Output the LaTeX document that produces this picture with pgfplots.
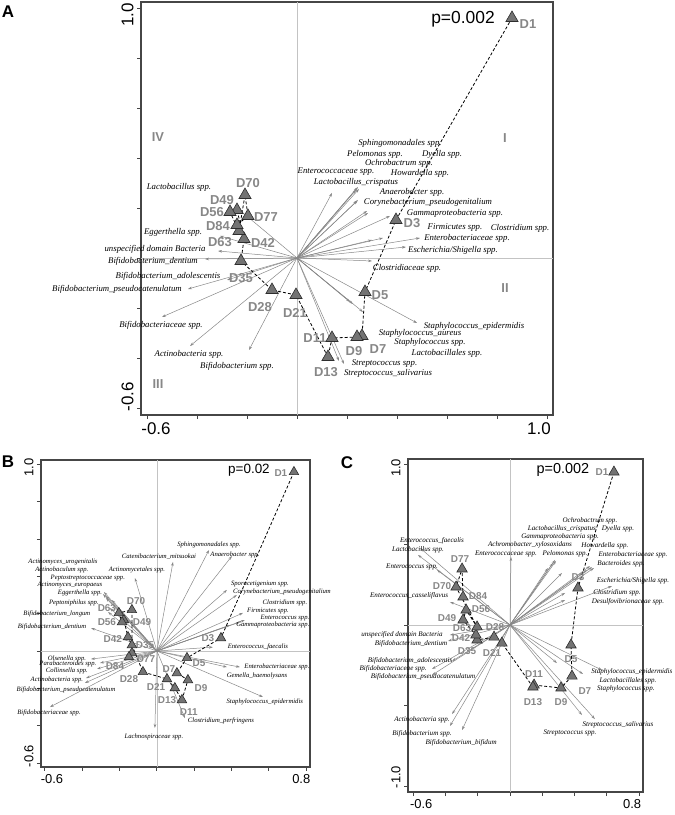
\documentclass[border=0pt]{standalone}
\usepackage{fontspec}
\setmainfont{Liberation Sans}
\newfontfamily\tnr{Liberation Serif}
\usepackage{pgfplots}
\pgfplotsset{compat=1.18}
\usetikzlibrary{arrows.meta}
\definecolor{ArrowGray}{RGB}{135,135,135}
\definecolor{ZeroGray}{RGB}{195,195,195}
\definecolor{TriFill}{RGB}{115,115,115}
\definecolor{TriDraw}{RGB}{45,45,45}
\definecolor{LabGray}{RGB}{135,135,135}
\definecolor{FrameGray}{RGB}{70,70,70}

\pgfplotsset{
  rda/.style={scale only axis, clip=false, axis line style={FrameGray, line width=1.1bp},
    tick pos=left, tick align=outside, major tick length=4bp,
    tick style={FrameGray, line width=0.9bp},
    /pgf/number format/assume math mode=true,
    yticklabel style={rotate=90, anchor=south}},
  vec/.style={ArrowGray, line width=0.5bp, -{Stealth[length=4bp,width=2.6bp]},
    quiver={u=\thisrow{u}, v=\thisrow{v}}},
  traj/.style={black, line width=0.8bp, dash pattern=on 3bp off 2bp, mark=triangle*,
    mark options={solid, fill=TriFill, draw=TriDraw, line width=0.6bp}},
  zero/.style={ZeroGray, line width=0.7bp, forget plot},
}
\tikzset{
  spA/.style={font=\tnr\itshape\fontsize{8.8}{8.8}\selectfont, inner sep=0pt},
  spB/.style={font=\tnr\itshape\fontsize{6.7}{6.7}\selectfont, inner sep=0pt},
  spC/.style={font=\tnr\itshape\fontsize{7.1}{7.1}\selectfont, inner sep=0pt},
  dA/.style={font=\bfseries\fontsize{13}{13}\selectfont, text=LabGray, inner sep=0pt},
  dB/.style={font=\bfseries\fontsize{10}{10}\selectfont, text=LabGray, inner sep=0pt},
  quad/.style={font=\bfseries\fontsize{13}{13}\selectfont, text=LabGray, inner sep=0pt},
  pan/.style={font=\bfseries\fontsize{17}{17}\selectfont, inner sep=0pt},
}
\newcommand{\lab}[4][spA]{\node[#1] at (axis cs:#2,#3) {#4};}

\begin{document}
\begin{tikzpicture}
\useasboundingbox (0,0) rectangle (675bp,815bp);
\node[pan] at (8bp,803bp) {A};
\node[pan] at (8bp,353bp) {B};
\node[pan] at (347bp,352bp) {C};

% ---------------- panel A ----------------
\begin{axis}[rda, at={(141bp,400bp)}, anchor=south west, width=412bp, height=413bp,
  xmin=-0.624, xmax=1.024, ymin=-0.628, ymax=1.024,
  xtick={-0.6,-0.4,-0.2,0,0.2,0.4,0.6,0.8,1.0},
  xticklabels={{\hspace*{18bp}-0.6},,,,,,,,{1.0\hspace*{16bp}}},
  ytick={-0.6,-0.4,-0.2,0,0.2,0.4,0.6,0.8,1.0},
  yticklabels={{\hspace*{22bp}-0.6},,,,,,,,{1.0\hspace*{14bp}}},
  ticklabel style={font=\fontsize{17}{17}\selectfont}]
\addplot[zero] coordinates {(0,-0.628) (0,1.024)};
\addplot[zero] coordinates {(-0.624,0) (1.024,0)};
\addplot[vec] table[x expr=0, y expr=0] {
u v
-0.244 0.204
-0.308 0.088
-0.316 0.028
-0.368 -0.004
-0.280 -0.088
-0.436 -0.124
-0.540 -0.236
-0.428 -0.352
-0.192 -0.368
0.140 0.260
0.244 0.284
0.240 0.280
0.236 0.272
0.248 0.276
0.240 0.228
0.244 0.232
0.280 0.188
0.284 0.180
0.372 0.168
0.300 0.072
0.344 0.080
0.492 0.080
0.436 0.044
0.300 -0.012
0.480 -0.260
0.224 -0.184
0.264 -0.216
0.212 -0.176
0.188 -0.424
0.168 -0.412
};
\addplot[traj, mark size=7bp] coordinates {
(0.860,0.960) (0.396,0.152) (0.272,-0.136) (0.260,-0.312) (0.240,-0.316)
(0.140,-0.320) (0.124,-0.396) (-0.004,-0.148) (-0.100,-0.128) (-0.224,-0.012)
(-0.212,0.076) (-0.240,0.192) (-0.268,0.184) (-0.232,0.108) (-0.208,0.252)
(-0.196,0.168) (-0.240,0.132)
};
\lab{0.412}{0.460}{Sphingomonadales spp.}
\lab{0.312}{0.416}{Pelomonas spp.}
\lab{0.580}{0.416}{Dyella spp.}
\lab{0.408}{0.380}{Ochrobactrum spp.}
\lab{0.156}{0.344}{Enterococcaceae spp.}
\lab{0.492}{0.340}{Howardella spp.}
\lab{0.236}{0.304}{Lactobacillus\_crispatus}
\lab{0.460}{0.264}{Anaerobacter spp.}
\lab{0.524}{0.224}{Corynebacterium\_pseudogenitalium}
\lab{0.632}{0.180}{Gammaproteobacteria spp.}
\lab{0.632}{0.120}{Firmicutes spp.}
\lab{0.892}{0.120}{Clostridium spp.}
\lab{0.680}{0.080}{Enterobacteriaceae spp.}
\lab{0.624}{0.032}{Escherichia/Shigella spp.}
\lab{0.440}{-0.040}{Clostridiaceae spp.}
\lab{0.708}{-0.272}{Staphylococcus\_epidermidis}
\lab{0.492}{-0.300}{Staphylococcus\_aureus}
\lab{0.532}{-0.336}{Staphylococcus spp.}
\lab{0.600}{-0.380}{Lactobacillales spp.}
\lab{0.350}{-0.424}{Streptococcus spp.}
\lab{0.364}{-0.462}{Streptococcus\_salivarius}
\lab{-0.472}{0.284}{Lactobacillus spp.}
\lab{-0.496}{0.104}{Eggerthella spp.}
\lab{-0.568}{0.036}{unspecified domain Bacteria}
\lab{-0.576}{-0.012}{Bifidobacterium\_dentium}
\lab{-0.516}{-0.072}{Bifidobacterium\_adolescentis}
\lab{-0.720}{-0.124}{Bifidobacterium\_pseudocatenulatum}
\lab{-0.544}{-0.268}{Bifidobacteriaceae spp.}
\lab{-0.432}{-0.384}{Actinobacteria spp.}
\lab{-0.240}{-0.432}{Bifidobacterium spp.}
\lab[dA]{-0.196}{0.300}{D70}
\lab[dA]{-0.300}{0.232}{D49}
\lab[dA]{-0.340}{0.184}{D56}
\lab[dA]{-0.124}{0.164}{D77}
\lab[dA]{-0.316}{0.128}{D84}
\lab[dA]{-0.308}{0.064}{D63}
\lab[dA]{-0.136}{0.060}{D42}
\lab[dA]{-0.224}{-0.080}{D35}
\lab[dA]{-0.148}{-0.196}{D28}
\lab[dA]{-0.008}{-0.220}{D21}
\lab[dA]{0.072}{-0.320}{D11}
\lab[dA]{0.116}{-0.456}{D13}
\lab[dA]{0.228}{-0.372}{D9}
\lab[dA]{0.324}{-0.364}{D7}
\lab[dA]{0.332}{-0.148}{D5}
\lab[dA]{0.460}{0.140}{D3}
\lab[dA]{0.924}{0.936}{D1}
\lab[quad]{-0.556}{0.484}{IV}
\lab[quad]{0.832}{0.480}{I}
\lab[quad]{0.832}{-0.120}{II}
\lab[quad]{-0.556}{-0.504}{III}
\node[font=\fontsize{17.5}{17.5}\selectfont, inner sep=0pt] at (axis cs:0.664,0.956) {p=0.002};
\end{axis}

% ---------------- panel B ----------------
\begin{axis}[rda, at={(41bp,48bp)}, anchor=south west, width=269bp, height=307bp,
  xmin=-0.621, xmax=0.820, ymin=-0.621, ymax=1.023,
  xtick={-0.6,-0.4,-0.2,0,0.2,0.4,0.6,0.8},
  xticklabels={{\hspace*{14bp}-0.6},,,,,,,{0.8\hspace*{10bp}}},
  ytick={-0.6,-0.4,-0.2,0,0.2,0.4,0.6,0.8,1.0},
  yticklabels={{\hspace*{14bp}-0.6},,,,,,,,{1.0\hspace*{6bp}}},
  ticklabel style={font=\fontsize{13}{13}\selectfont}]
\addplot[zero] coordinates {(0,-0.621) (0,1.023)};
\addplot[zero] coordinates {(-0.621,0) (0.820,0)};
\addplot[vec] table[x expr=0, y expr=0] {
u v
0.279 0.541
0.402 0.509
0.086 0.477
-0.118 0.391
-0.284 0.316
-0.273 0.295
-0.241 0.273
-0.273 0.284
-0.289 0.305
-0.252 0.230
-0.262 0.209
-0.353 0.123
0.375 0.327
0.428 0.300
0.461 0.204
0.471 0.166
0.445 0.155
0.391 0.139
0.300 0.021
0.445 -0.086
0.375 -0.086
0.568 -0.246
0.150 -0.359
-0.011 -0.412
-0.353 -0.043
-0.305 -0.064
-0.321 -0.096
-0.380 -0.145
-0.386 -0.171
-0.573 -0.300
};
\addplot[traj, mark size=5.5bp] coordinates {
(0.734,0.959) (0.343,0.070) (0.161,-0.037) (0.107,-0.118) (0.166,-0.155)
(0.134,-0.262) (0.096,-0.198) (0.054,-0.150) (-0.075,-0.112) (-0.134,0.032)
(-0.155,0.075) (-0.177,0.166) (-0.187,0.155) (-0.204,0.204) (-0.134,0.220)
(-0.134,-0.011) (-0.150,-0.032)
};
\lab[spB]{0.279}{0.568}{Sphingomonadales spp.}
\lab[spB]{0.418}{0.514}{Anaerobacter spp.}
\lab[spB]{0.011}{0.503}{Catenibacterium\_mitsuokai}
\lab[spB]{-0.107}{0.434}{Actinomycetales spp.}
\lab[spB]{-0.503}{0.477}{Actinomyces\_urogenitalis}
\lab[spB]{-0.509}{0.434}{Actinobaculum spp.}
\lab[spB]{-0.370}{0.391}{Peptostreptococcaceae spp.}
\lab[spB]{-0.466}{0.353}{Actinomyces\_europaeus}
\lab[spB]{-0.412}{0.311}{Eggerthella spp.}
\lab[spB]{-0.445}{0.257}{Peptoniphilus spp.}
\lab[spB]{-0.536}{0.198}{Bifidobacterium\_longum}
\lab[spB]{-0.562}{0.129}{Bifidobacterium\_dentium}
\lab[spB]{0.552}{0.359}{Sporacetigenium spp.}
\lab[spB]{0.670}{0.316}{Corynebacterium\_pseudogenitalium}
\lab[spB]{0.686}{0.257}{Clostridium spp.}
\lab[spB]{0.595}{0.214}{Firmicutes spp.}
\lab[spB]{0.686}{0.177}{Enterococcus spp.}
\lab[spB]{0.621}{0.139}{Gammaproteobacteria spp.}
\lab[spB]{0.541}{0.021}{Enterococcus\_faecalis}
\lab[spB]{0.643}{-0.086}{Enterobacteriaceae spp.}
\lab[spB]{0.536}{-0.134}{Gemella\_haemolysans}
\lab[spB]{0.578}{-0.273}{Staphylococcus\_epidermidis}
\lab[spB]{0.343}{-0.375}{Clostridium\_perfringens}
\lab[spB]{-0.016}{-0.461}{Lachnospiraceae spp.}
\lab[spB]{-0.482}{-0.043}{Olsenella spp.}
\lab[spB]{-0.477}{-0.070}{Parabacteroides spp.}
\lab[spB]{-0.482}{-0.107}{Collinsella spp.}
\lab[spB]{-0.536}{-0.155}{Actinobacteria spp.}
\lab[spB]{-0.487}{-0.209}{Bifidobacterium\_pseudocatenulatum}
\lab[spB]{-0.578}{-0.332}{Bifidobacteriaceae spp.}
\lab[dB]{0.664}{0.953}{D1}
\lab[dB]{0.273}{0.070}{D3}
\lab[dB]{0.225}{-0.064}{D5}
\lab[dB]{0.064}{-0.096}{D7}
\lab[dB]{0.236}{-0.198}{D9}
\lab[dB]{0.171}{-0.325}{D11}
\lab[dB]{0.054}{-0.262}{D13}
\lab[dB]{-0.005}{-0.193}{D21}
\lab[dB]{-0.150}{-0.150}{D28}
\lab[dB]{-0.064}{0.032}{D35}
\lab[dB]{-0.236}{0.064}{D42}
\lab[dB]{-0.080}{0.155}{D49}
\lab[dB]{-0.268}{0.155}{D56}
\lab[dB]{-0.268}{0.230}{D63}
\lab[dB]{-0.112}{0.268}{D70}
\lab[dB]{-0.059}{-0.043}{D77}
\lab[dB]{-0.225}{-0.080}{D84}
\node[font=\fontsize{13.5}{13.5}\selectfont, inner sep=0pt] at (axis cs:0.493,0.969) {p=0.02};
\end{axis}

% ---------------- panel C ----------------
\begin{axis}[rda, at={(408bp,23bp)}, anchor=south west, width=235bp, height=333bp,
  xmin=-0.632, xmax=0.824, ymin=-1.037, ymax=1.031,
  xtick={-0.6,-0.4,-0.2,0,0.2,0.4,0.6,0.8},
  xticklabels={{\hspace*{16bp}-0.6},,,,,,,{0.8\hspace*{14bp}}},
  ytick={-1,-0.5,0,0.5,1},
  yticklabels={{\hspace*{18bp}-1.0},,,,{1.0\hspace*{8bp}}},
  ticklabel style={font=\fontsize{13}{13}\selectfont}]
\addplot[zero] coordinates {(0,-1.037) (0,1.031)};
\addplot[zero] coordinates {(-0.632,0) (0.824,0)};
\addplot[vec] table[x expr=0, y expr=0] {
u v
0.279 0.404
0.266 0.385
0.322 0.323
0.235 0.354
0.006 0.422
0.285 0.398
0.495 0.366
0.508 0.360
0.477 0.342
0.520 0.354
0.632 0.242
0.341 0.199
0.341 0.155
-0.557 0.478
-0.570 0.435
-0.452 0.342
-0.372 0.143
-0.372 -0.062
-0.384 -0.099
-0.359 -0.224
-0.483 -0.273
-0.483 -0.311
-0.359 -0.553
-0.372 -0.627
-0.297 -0.652
0.570 -0.280
0.452 -0.304
0.291 -0.236
0.526 -0.584
0.446 -0.559
};
\addplot[traj, mark size=6bp] coordinates {
(0.644,0.950) (0.421,0.230) (0.378,-0.124) (0.384,-0.317) (0.316,-0.391)
(0.149,-0.373) (0.142,-0.385) (-0.050,-0.112) (-0.099,-0.075) (-0.204,-0.093)
(-0.211,-0.062) (-0.291,0.031) (-0.272,0.093) (-0.204,-0.012) (-0.334,0.236)
(-0.297,0.348) (-0.291,0.174)
};
\lab[spC]{0.495}{0.646}{Ochrobactrum spp.}
\lab[spC]{0.322}{0.596}{Lactobacillus\_crispatus}
\lab[spC]{0.669}{0.596}{Dyella spp.}
\lab[spC]{0.310}{0.547}{Gammaproteobacteria spp.}
\lab[spC]{0.124}{0.497}{Achromobacter\_xylosoxidans}
\lab[spC]{0.588}{0.491}{Howardella spp.}
\lab[spC]{-0.025}{0.441}{Enterococcaceae spp.}
\lab[spC]{0.341}{0.441}{Pelomonas spp.}
\lab[spC]{0.762}{0.435}{Enterobacteriaceae spp.}
\lab[spC]{0.687}{0.379}{Bacteroides spp.}
\lab[spC]{0.762}{0.273}{Escherichia/Shigella spp.}
\lab[spC]{0.663}{0.199}{Clostridium spp.}
\lab[spC]{0.731}{0.143}{Desulfovibrionaceae spp.}
\lab[spC]{-0.483}{0.522}{Enterococcus\_faecalis}
\lab[spC]{-0.570}{0.466}{Lactobacillus spp.}
\lab[spC]{-0.607}{0.360}{Enterococcus spp.}
\lab[spC]{-0.625}{0.180}{Enterococcus\_casseliflavus}
\lab[spC]{-0.669}{-0.062}{unspecified domain Bacteria}
\lab[spC]{-0.613}{-0.118}{Bifidobacterium\_dentium}
\lab[spC]{-0.619}{-0.224}{Bifidobacterium\_adolescentis}
\lab[spC]{-0.724}{-0.273}{Bifidobacteriaceae spp.}
\lab[spC]{-0.539}{-0.323}{Bifidobacterium\_pseudocatenulatum}
\lab[spC]{-0.545}{-0.590}{Actinobacteria spp.}
\lab[spC]{-0.545}{-0.677}{Bifidobacterium spp.}
\lab[spC]{-0.303}{-0.733}{Bifidobacterium\_bifidum}
\lab[spC]{0.669}{-0.621}{Streptococcus\_salivarius}
\lab[spC]{0.372}{-0.671}{Streptococcus spp.}
\lab[spC]{0.755}{-0.292}{Staphylococcus\_epidermidis}
\lab[spC]{0.731}{-0.348}{Lactobacillales spp.}
\lab[spC]{0.718}{-0.398}{Staphylococcus spp.}
\lab[dB]{0.570}{0.950}{D1}
\lab[dB]{0.421}{0.298}{D3}
\lab[dB]{-0.310}{0.410}{D77}
\lab[dB]{-0.421}{0.242}{D70}
\lab[dB]{-0.198}{0.180}{D84}
\lab[dB]{-0.180}{0.099}{D56}
\lab[dB]{-0.390}{0.043}{D49}
\lab[dB]{-0.297}{-0.020}{D63}
\lab[dB]{-0.093}{-0.012}{D28}
\lab[dB]{-0.303}{-0.080}{D42}
\lab[dB]{-0.266}{-0.161}{D35}
\lab[dB]{-0.111}{-0.174}{D21}
\lab[dB]{0.378}{-0.211}{D5}
\lab[dB]{0.149}{-0.304}{D11}
\lab[dB]{0.142}{-0.478}{D13}
\lab[dB]{0.316}{-0.478}{D9}
\lab[dB]{0.464}{-0.410}{D7}
\node[font=\fontsize{14.5}{14.5}\selectfont, inner sep=0pt] at (axis cs:0.328,0.963) {p=0.002};
\end{axis}
\end{tikzpicture}
\end{document}
